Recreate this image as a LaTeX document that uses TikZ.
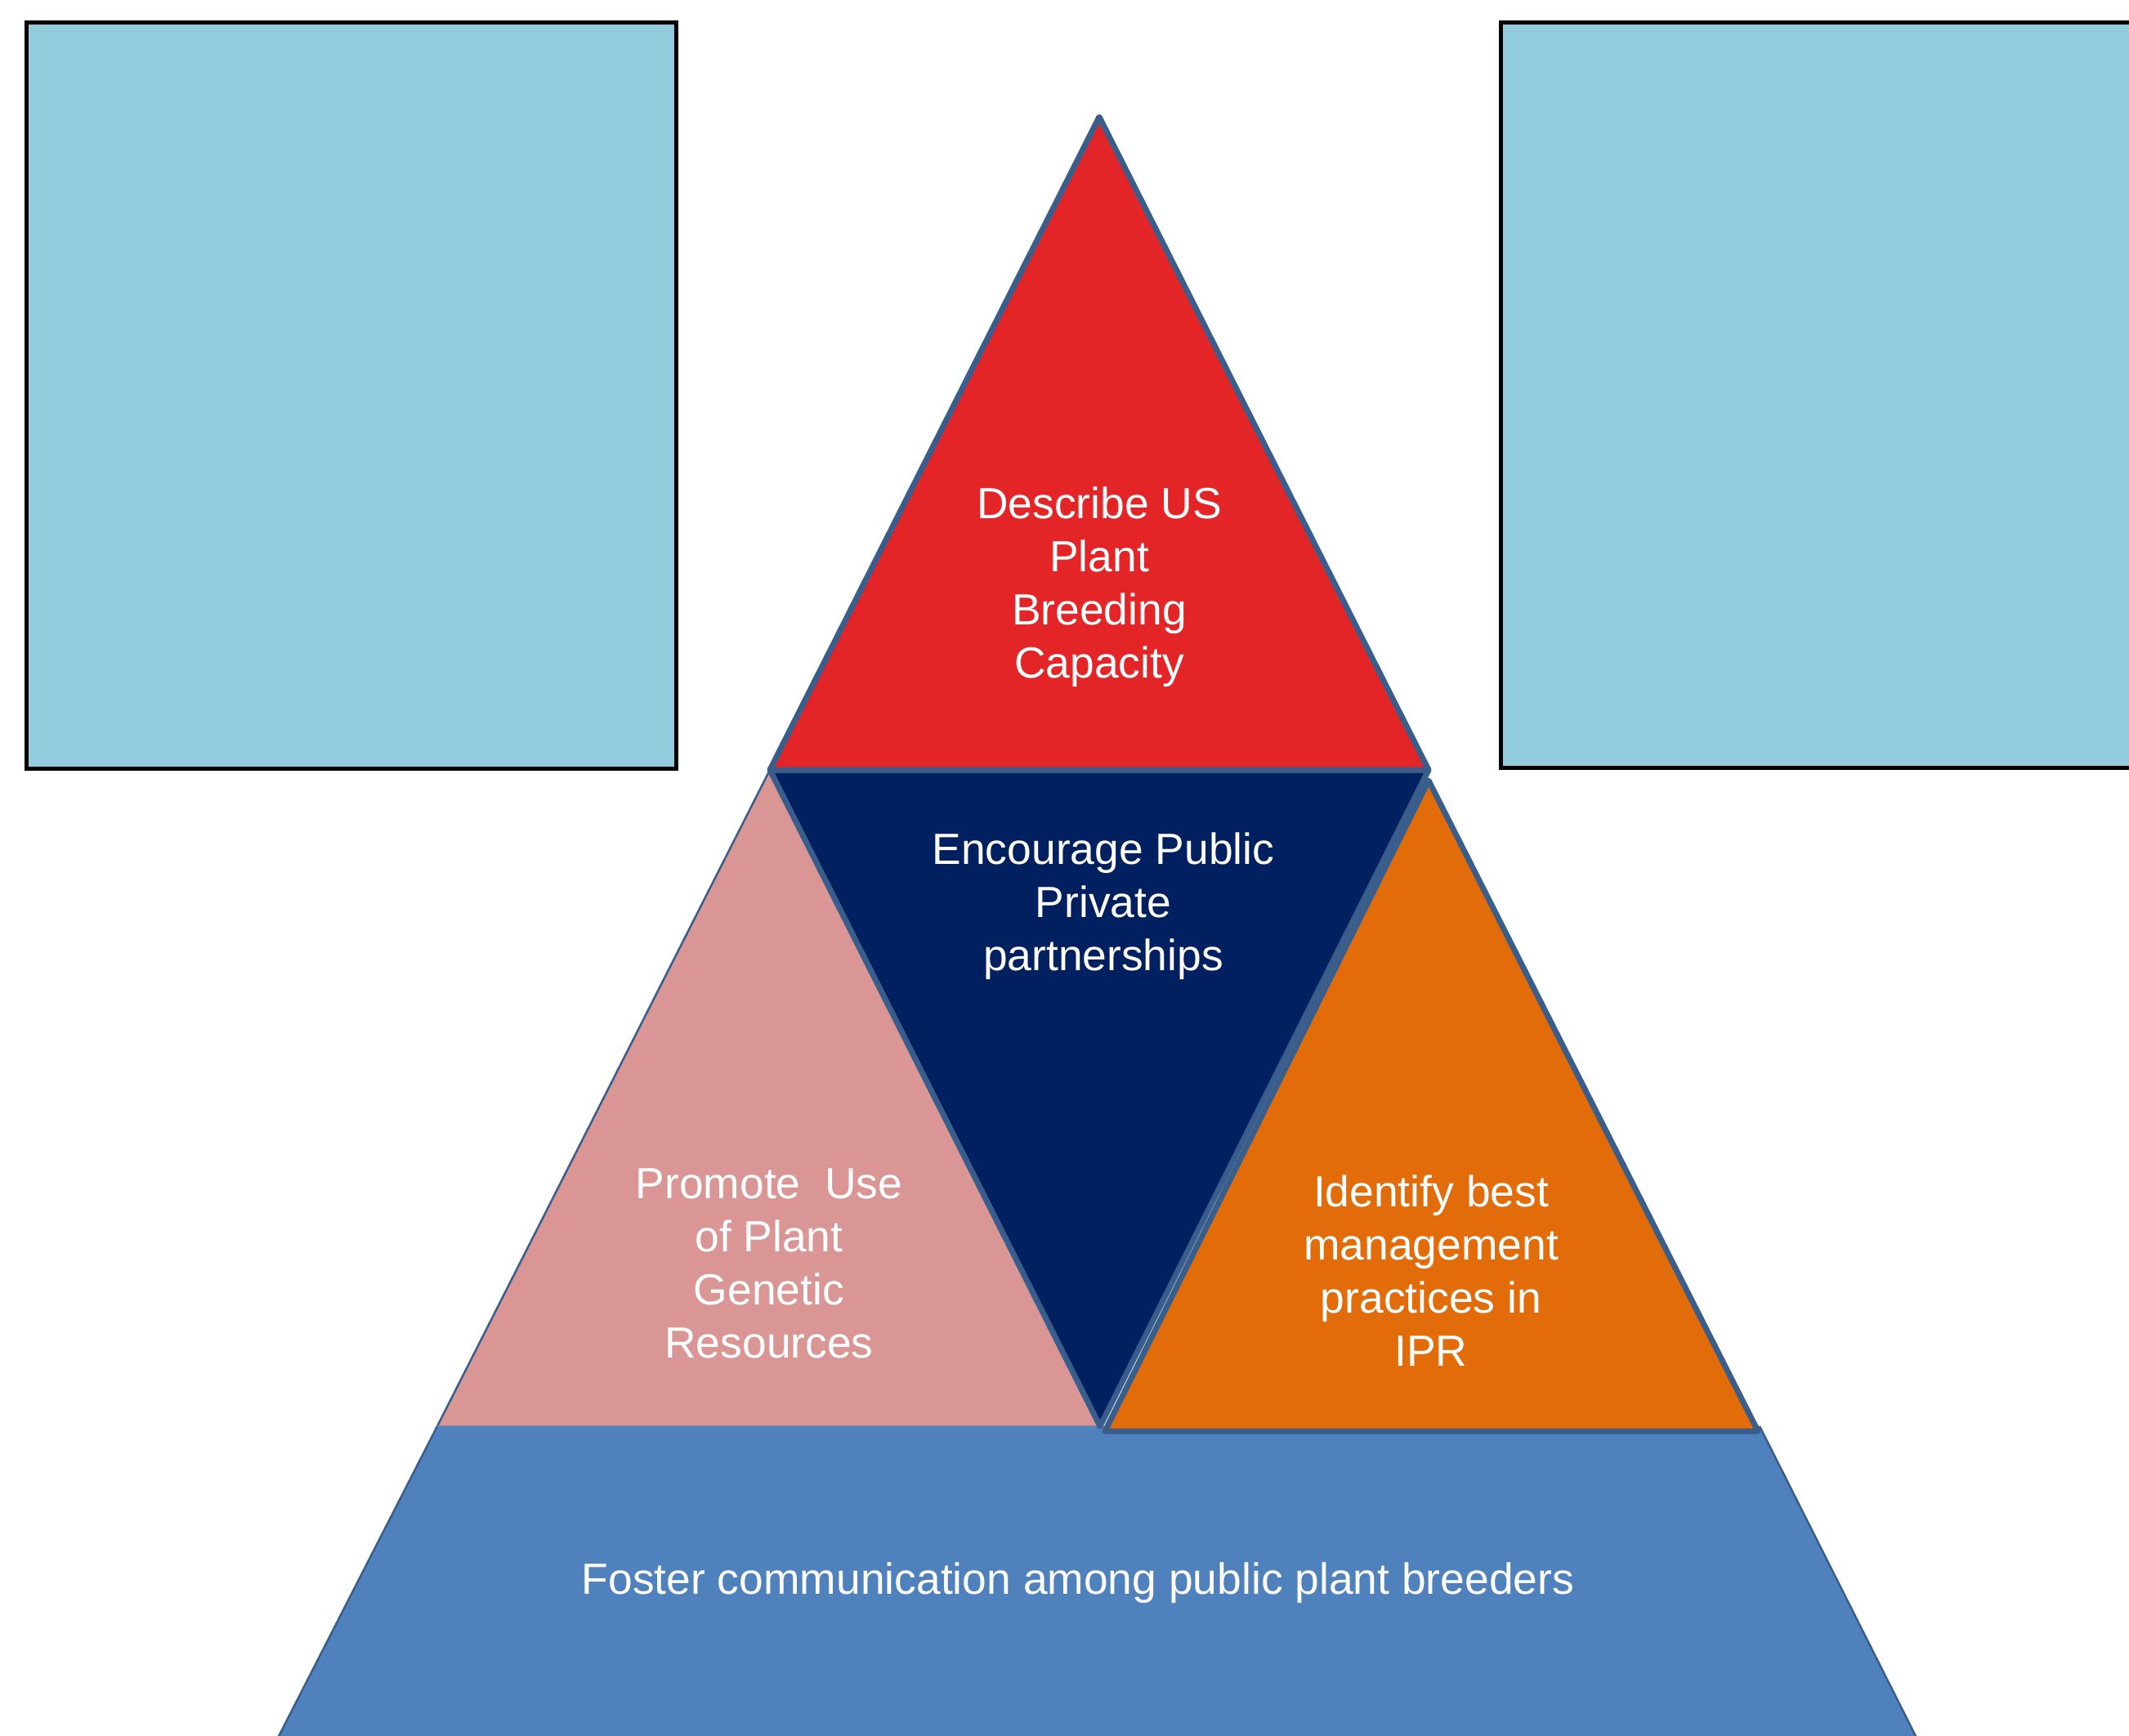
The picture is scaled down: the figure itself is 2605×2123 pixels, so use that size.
\documentclass[tikz,border=0pt]{standalone}
\usepackage{fontspec}
\setmainfont{Liberation Sans}
\definecolor{boxfill}{HTML}{93CDDD}
\definecolor{redf}{HTML}{E32527}
\definecolor{navyf}{HTML}{002060}
\definecolor{pinkf}{HTML}{D99694}
\definecolor{orangef}{HTML}{E36C0A}
\definecolor{bluef}{HTML}{4F81BD}
\definecolor{edge}{HTML}{3A5E8C}
\tikzset{
  sidebox/.style={fill=boxfill, draw=black, line width=0.5mm},
  piece/.style={draw=edge, line width=0.7mm, line join=round},
  thinpiece/.style={draw=edge, line width=0.25mm, line join=round},
  lbl/.style={text=white, align=center, inner sep=0pt,
    font=\fontsize{15.2pt}{18.5pt}\selectfont}
}
\begin{document}
\begin{tikzpicture}[x=0.1mm,y=-0.1mm]
\useasboundingbox (0,0) rectangle (2605,2123);
\clip (0,0) rectangle (2605,2123);
\fill[white] (0,0) rectangle (2605,2123);
% side boxes
\draw[sidebox] (32,28) rectangle (827,940);
\draw[sidebox] (1836,28) rectangle (2700,939);
% base trapezoid
\fill[bluef] (535,1745) -- (2153,1745) -- (2352,2140) -- (333,2140) -- cycle;
\draw[thinpiece] (535,1745) -- (333,2140);
\draw[thinpiece] (2153,1745) -- (2352,2140);
% pink triangle
\fill[pinkf] (942,942) -- (535,1745) -- (1346,1745) -- cycle;
\draw[thinpiece] (942,942) -- (535,1745);
\draw[bluef!80!pinkf, line width=0.15mm] (535,1745) -- (1346,1745);
% navy inverted triangle
\draw[piece, fill=navyf] (942,942) -- (1748,942) -- (1346,1745) -- cycle;
% orange triangle
\draw[piece, fill=orangef] (1748,955) -- (2151,1751) -- (1352,1751) -- cycle;
% red top triangle
\draw[piece, fill=redf] (1345,143) -- (1748,942) -- (942,942) -- cycle;
% labels
\node[lbl] (top) at (1345,718) {Describe US\\Plant\\Breeding\\Capacity};
\node[lbl] (mid) at (1350,1109) {Encourage Public\\Private\\partnerships};
\node[lbl] (left) at (941,1546) {Promote\ \ Use\\of Plant\\Genetic\\Resources};
\node[lbl] (right) at (1751,1555) {Identify best\\management\\practices in\\IPR};
\node[lbl] (base) at (1319,1937) {Foster communication among public plant breeders};
\end{tikzpicture}
\end{document}
